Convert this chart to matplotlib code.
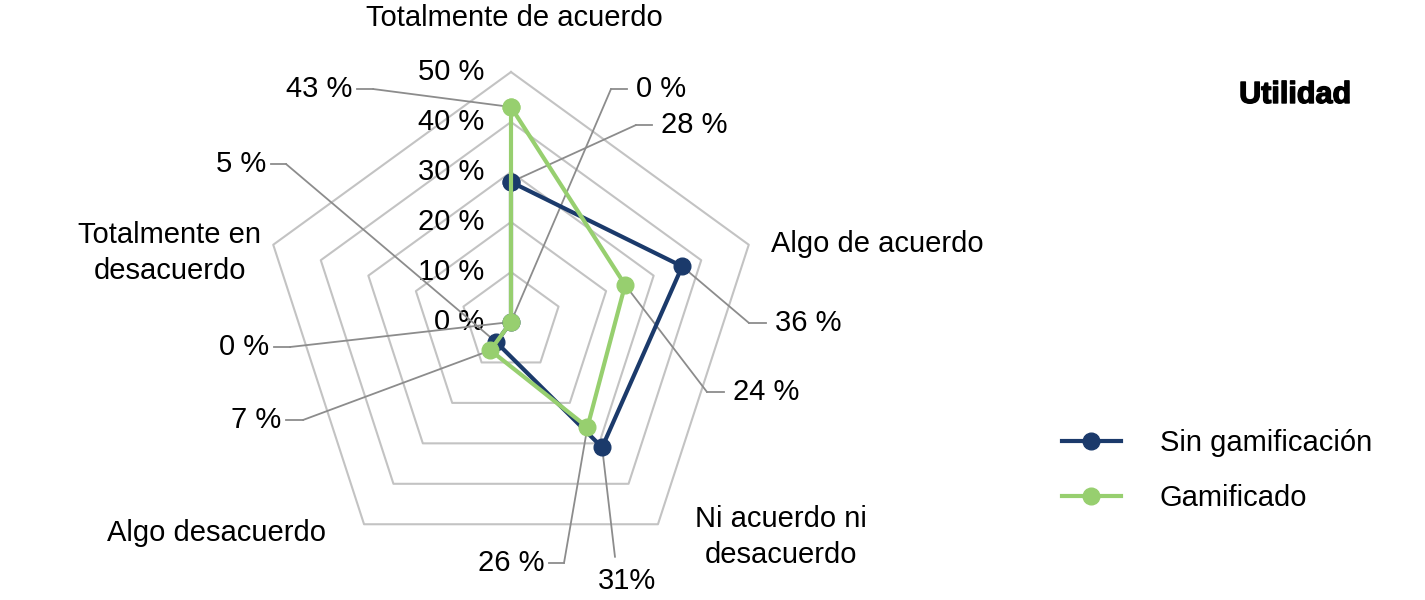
import numpy as np
import matplotlib
matplotlib.use('Agg')
import matplotlib.pyplot as plt
from matplotlib.lines import Line2D
import matplotlib.patheffects as pe

plt.rcParams['font.family'] = ['Liberation Sans', 'DejaVu Sans']

# datos
categorias = ['Totalmente de acuerdo', 'Algo de acuerdo', 'Ni acuerdo ni\ndesacuerdo',
              'Algo desacuerdo', 'Totalmente en\ndesacuerdo']
sin_gam = [28, 36, 31, 5, 0]
gamificado = [43, 24, 26, 7, 0]
anillos = [0, 10, 20, 30, 40, 50]

W, H = 1425, 600
azul = '#1b3a6b'
verde = '#97cf6f'
gris_red = '#c3c3c3'
gris_guia = '#8c8c8c'
fs = 21

fig = plt.figure(figsize=(W / 100, H / 100), dpi=100)
cx, cy, rad = 511, 322, 250
ax = fig.add_axes([(cx - rad) / W, (H - cy - rad) / H, 2 * rad / W, 2 * rad / H], projection='polar')
ax.set_theta_zero_location('N')
ax.set_theta_direction(-1)
ax.set_ylim(0, 50)
ax.grid(False)
ax.spines['polar'].set_visible(False)
ax.set_xticks([])
ax.set_yticks([])
ax.patch.set_visible(False)

n = len(categorias)
ang = np.linspace(0, 2 * np.pi, n, endpoint=False)
ang_c = np.append(ang, ang[0])

# red pentagonal
for r in anillos[1:]:
    ax.plot(ang_c, [r] * (n + 1), color=gris_red, lw=1.5, zorder=1, clip_on=False)
for r in anillos:
    ax.annotate(f'{r} %', xy=(0, r), xytext=(-27, 0), textcoords='offset pixels',
                ha='right', va='center', fontsize=fs, zorder=2)

def px(x, y):
    return x / W, 1 - y / H

# líneas guía de etiquetas: (texto, serie, índice, codo, fin del trazo, alineación)
guias = [
    ('43 %', gamificado, 0, (373, 89), (357, 89), 'right'),
    ('0 %', sin_gam, 4, (611, 89), (627, 89), 'left'),
    ('28 %', sin_gam, 0, (636, 125), (652, 125), 'left'),
    ('5 %', sin_gam, 3, (286, 164), (271, 164), 'right'),
    ('0 %', gamificado, 4, (290, 347), (274, 347), 'right'),
    ('7 %', gamificado, 3, (303, 420), (286, 420), 'right'),
    ('36 %', sin_gam, 1, (749, 323), (766, 323), 'left'),
    ('24 %', gamificado, 1, (707, 392), (724, 392), 'left'),
    ('26 %', gamificado, 2, (564, 563), (549, 563), 'right'),
]
for txt, serie, i, codo, fin, al in guias:
    ax.annotate('', xy=(ang[i], serie[i]), xycoords='data', xytext=px(*codo),
                textcoords='figure fraction',
                arrowprops=dict(arrowstyle='-', color=gris_guia, lw=1.3, shrinkA=0, shrinkB=0),
                zorder=3)
    fig.add_artist(Line2D([codo[0] / W, fin[0] / W], [1 - codo[1] / H, 1 - fin[1] / H],
                          color=gris_guia, lw=1.3))
    dx = -5 if al == 'right' else 9
    fig.text((fin[0] + dx) / W, 1 - fin[1] / H, txt, ha=al, va='center', fontsize=fs)

# 31% sin codo horizontal
ax.annotate('', xy=(ang[2], sin_gam[2]), xycoords='data', xytext=px(615, 557),
            textcoords='figure fraction',
            arrowprops=dict(arrowstyle='-', color=gris_guia, lw=1.3, shrinkA=0, shrinkB=0), zorder=3)
fig.text(627 / W, 1 - 581 / H, '31%', ha='center', va='center', fontsize=fs)

# series
ax.plot(ang_c, sin_gam + sin_gam[:1], color=azul, lw=3, marker='o', ms=12, zorder=5,
        clip_on=False, label='Sin gamificación')
ax.plot(ang_c, gamificado + gamificado[:1], color=verde, lw=3, marker='o', ms=12, zorder=6,
        clip_on=False, label='Gamificado')

# categorías
fig.text(*px(514, 18), categorias[0], ha='center', va='center', fontsize=fs)
fig.text(*px(771, 244), categorias[1], ha='left', va='center', fontsize=fs)
fig.text(*px(781, 537), categorias[2], ha='center', va='center', fontsize=fs, linespacing=1.4)
fig.text(*px(216, 533), categorias[3], ha='center', va='center', fontsize=fs)
fig.text(*px(170, 253), categorias[4], ha='center', va='center', fontsize=fs, linespacing=1.4)

# título
fig.text(*px(1351, 95), 'Utilidad', ha='right', va='center', fontsize=22, fontweight='bold',
         path_effects=[pe.withStroke(linewidth=1.0, foreground='black')])

# leyenda
fig.legend(loc='upper left', bbox_to_anchor=(1036 / W, 1 - 403 / H), frameon=False,
           fontsize=fs, handlelength=2.0, handletextpad=1.35, labelspacing=0.93)

fig.savefig('out.png', dpi=100)
